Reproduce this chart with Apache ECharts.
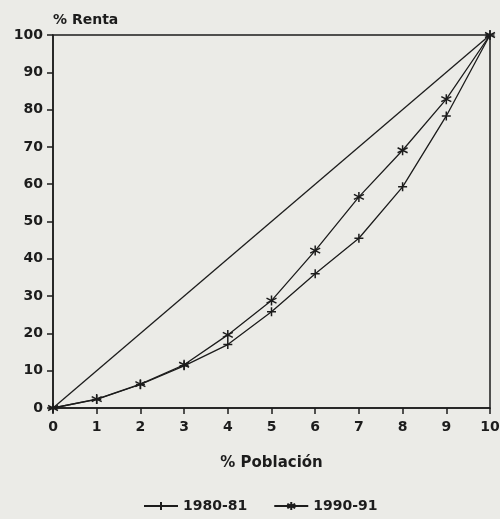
<!DOCTYPE html>
<html>
<head>
<meta charset="utf-8">
<title>Curva de Lorenz</title>
<script src="https://cdn.jsdelivr.net/npm/echarts@6/dist/echarts.min.js"></script>
<style>
  html, body { margin: 0; padding: 0; background: #ebebe7; }
  #main { width: 500px; height: 519px; }
</style>
</head>
<body>
<div id="main"></div>
<script type="text/javascript">
// deciles de poblacion (eje x)
var poblacion = [0, 1, 2, 3, 4, 5, 6, 7, 8, 9, 10];
// % renta acumulada
var renta8081 = [0, 2.3, 6.3, 11.3, 17.0, 25.8, 36.0, 45.5, 59.3, 78.3, 100];
var renta9091 = [0, 2.4, 6.4, 11.6, 19.6, 28.8, 42.2, 56.6, 69.1, 82.8, 100];
// linea de igualdad
var igualdad = [0, 100];

var plusSym = 'path://M5,0 L5,10 M0,5 L10,5';
var starSym = 'path://M5,0 L5,10 M0.7,2.5 L9.3,7.5 M0.7,7.5 L9.3,2.5';

function pares(ys) {
    var out = [];
    for (var i = 0; i < ys.length; i++) out.push([poblacion[i], ys[i]]);
    return out;
}

var ink = '#1c1c1c';
var font = 'DejaVu Sans';

var myChart = echarts.init(document.getElementById('main'));

var option = {
    backgroundColor: '#ebebe7',
    animation: false,
    textStyle: { fontFamily: font },
    grid: {
        left: 53, right: 10, top: 35, bottom: 111,
        outerBoundsMode: 'none', containLabel: false,
        show: true, borderColor: ink, borderWidth: 1.5,
        backgroundColor: 'transparent'
    },
    xAxis: {
        type: 'value', min: 0, max: 10, interval: 1,
        name: '% Población', nameLocation: 'middle', nameGap: 48,
        nameTextStyle: { color: ink, fontWeight: 'bold', fontSize: 15, fontFamily: font },
        axisLine: { lineStyle: { color: ink, width: 1.5 } },
        axisTick: { inside: false, length: 6, lineStyle: { color: ink, width: 1.5 } },
        axisLabel: { color: ink, fontWeight: 'bold', fontSize: 14, margin: 12, fontFamily: font },
        splitLine: { show: false }
    },
    yAxis: {
        type: 'value', min: 0, max: 100, interval: 10,
        name: '% Renta', nameLocation: 'end', nameGap: 8,
        nameTextStyle: { color: ink, fontWeight: 'bold', fontSize: 14, align: 'left', padding: [0, 0, 0, 0], fontFamily: font },
        axisLine: { lineStyle: { color: ink, width: 1.5 } },
        axisTick: { inside: false, length: 6, lineStyle: { color: ink, width: 1.5 } },
        axisLabel: { color: ink, fontWeight: 'bold', fontSize: 14, margin: 10, fontFamily: font },
        splitLine: { show: false }
    },
    legend: {
        bottom: 1, left: 138, itemGap: 26, itemWidth: 34, itemHeight: 10,
        textStyle: { color: ink, fontWeight: 'bold', fontSize: 14, fontFamily: font },
        data: ['1980-81', '1990-91']
    },
    series: [
        {
            name: 'igualdad', type: 'line', data: [[0, igualdad[0]], [10, igualdad[1]]],
            showSymbol: false, silent: true,
            lineStyle: { color: ink, width: 1.3 }
        },
        {
            name: '1980-81', type: 'line', data: pares(renta8081),
            symbol: plusSym, symbolSize: 9,
            itemStyle: { color: 'none', borderColor: ink, borderWidth: 1.5 },
            lineStyle: { color: ink, width: 1.3 }
        },
        {
            name: '1990-91', type: 'line', data: pares(renta9091),
            symbol: starSym, symbolSize: 10,
            itemStyle: { color: 'none', borderColor: ink, borderWidth: 1.5 },
            lineStyle: { color: ink, width: 1.3 }
        }
    ]
};

myChart.setOption(option);
</script>
</body>
</html>
